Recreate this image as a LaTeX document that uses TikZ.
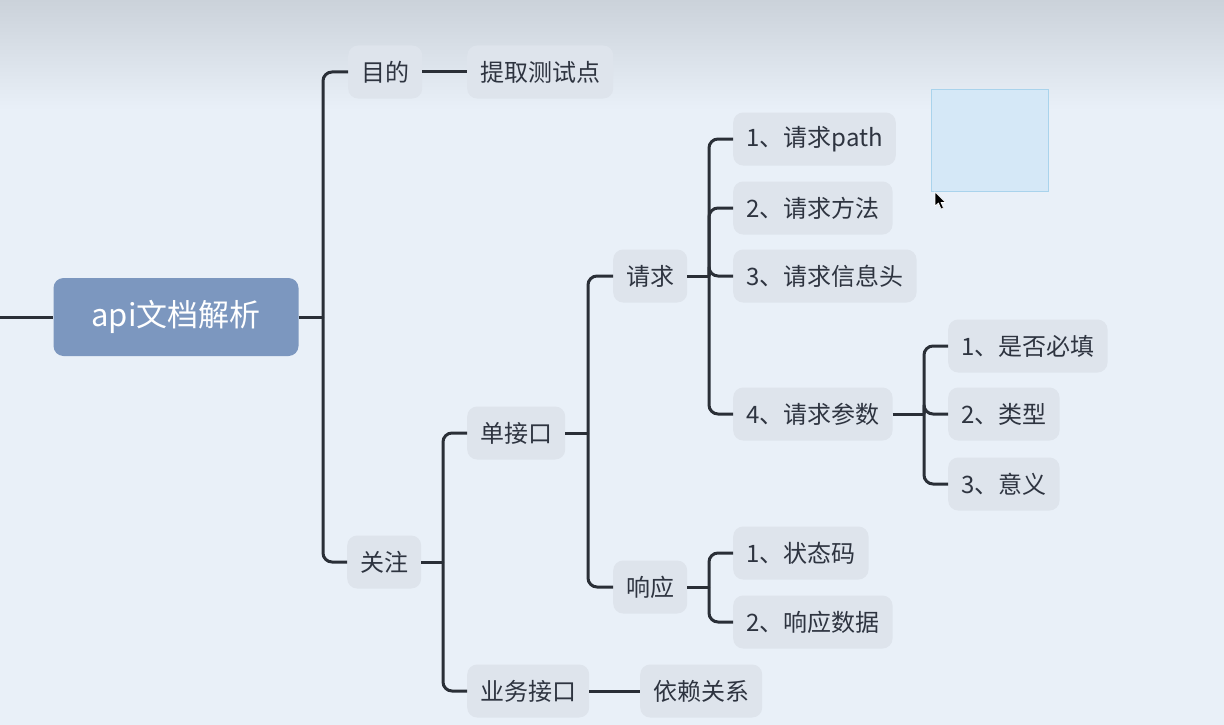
\documentclass[tikz,border=0pt]{standalone}
\usepackage{fontspec}
\setmainfont{Noto Sans CJK SC}
\definecolor{bgcol}{HTML}{E9F0F8}
\definecolor{bgtop}{HTML}{CBD2DA}
\definecolor{nodecol}{HTML}{DEE4EC}
\definecolor{rootcol}{HTML}{7C97BF}
\definecolor{txtcol}{HTML}{2E3440}
\definecolor{edgecol}{HTML}{2A2F37}
\definecolor{selfill}{HTML}{D5E8F7}
\definecolor{seldraw}{HTML}{A9D3EC}
\begin{document}
\begin{tikzpicture}[x=1pt, y=-1pt,
    topic/.style={rectangle, rounded corners=10pt, fill=nodecol, text=txtcol, anchor=west,
      font=\fontsize{24}{29}\selectfont, minimum height=53pt, inner xsep=13pt},
    rootbox/.style={rectangle, rounded corners=10pt, fill=rootcol, text=white,
      font=\fontsize{31}{37}\selectfont, minimum width=245pt, minimum height=78pt},
    edge/.style={draw=edgecol, line width=3pt, rounded corners=9pt}]

            % Background
            \useasboundingbox (0,0) rectangle (1224,725);
            \fill[bgcol] (0,0) rectangle (1224,725);
            \shade[top color=bgtop, bottom color=bgcol] (0,0) rectangle (1224,110);

            % Nodes
            \node[rootbox] (api) at (176,317) {api文档解析};
            \node[topic] (mudi) at (348,72) {目的};
            \node[topic] (tiqu) at (467,72) {提取测试点};
            \node[topic] (guanzhu) at (347,562) {关注};
            \node[topic] (dan) at (467,433) {单接口};
            \node[topic] (yewu) at (467,691) {业务接口};
            \node[topic] (yilai) at (640,691) {依赖关系};
            \node[topic] (qingqiu) at (613,276) {请求};
            \node[topic] (xiangying) at (613,587) {响应};
            \node[topic] (q1) at (733,139) {1、请求path};
            \node[topic] (q2) at (733,208) {2、请求方法};
            \node[topic] (q3) at (733,276) {3、请求信息头};
            \node[topic] (q4) at (733,414) {4、请求参数};
            \node[topic] (p1) at (948,346) {1、是否必填};
            \node[topic] (p2) at (948,414) {2、类型};
            \node[topic] (p3) at (948,484) {3、意义};
            \node[topic] (r1) at (733,553) {1、状态码};
            \node[topic] (r2) at (733,622) {2、响应数据};

            % Forks
            \coordinate (in) at (0,317);
            \coordinate (f0) at (323,317);
            \coordinate (f1) at (443,562);
            \coordinate (f2) at (588,433);
            \coordinate (f3) at (709,276);
            \coordinate (f4) at (924,414);
            \coordinate (f5) at (709,587);

            % Edges
            \draw[edge] (in) -- (api.west);
            \draw[edge] (api.east) -- (f0);
            \draw[edge] (f0) |- (mudi.west);
            \draw[edge] (f0) |- (guanzhu.west);
            \draw[edge] (mudi.east) -- (tiqu.west);
            \draw[edge] (guanzhu.east) -- (f1);
            \draw[edge] (f1) |- (dan.west);
            \draw[edge] (f1) |- (yewu.west);
            \draw[edge] (yewu.east) -- (yilai.west);
            \draw[edge] (dan.east) -- (f2);
            \draw[edge] (f2) |- (qingqiu.west);
            \draw[edge] (f2) |- (xiangying.west);
            \draw[edge] (qingqiu.east) -- (f3);
            \foreach \c in {q1,q2,q3,q4} \draw[edge] (f3) |- (\c.west);
            \draw[edge] (q4.east) -- (f4);
            \foreach \c in {p1,p2,p3} \draw[edge] (f4) |- (\c.west);
            \draw[edge] (xiangying.east) -- (f5);
            \foreach \c in {r1,r2} \draw[edge] (f5) |- (\c.west);

            % Selection box and cursor
            \draw[fill=selfill, draw=seldraw, line width=1pt] (931,90) rectangle (1048,191);
            \fill[black, draw=white, line width=0.6pt] (935,192) -- (935,206) -- (938.5,203) -- (941,209)
              -- (943.5,208) -- (941,202.5) -- (945.5,202.5) -- cycle;

          \end{tikzpicture}
\end{document}
